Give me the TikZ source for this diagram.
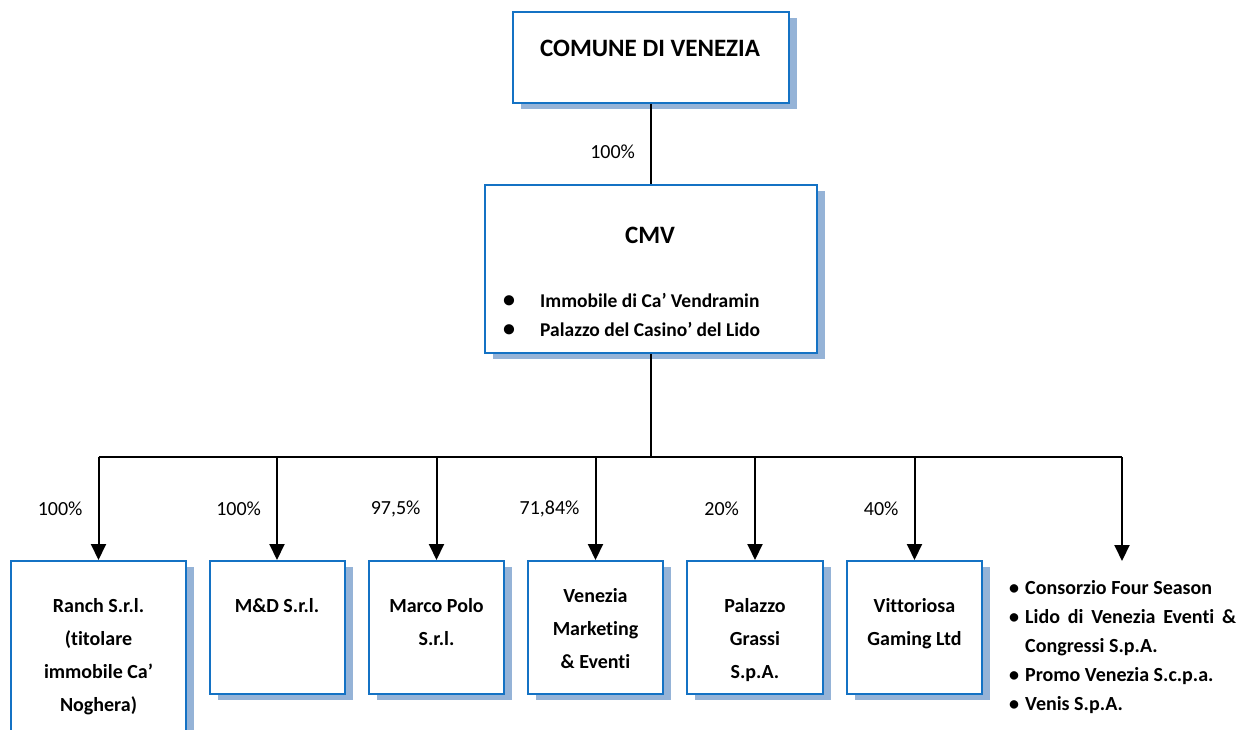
\documentclass[tikz,border=0pt]{standalone}
\usepackage{fontspec}
\setmainfont{Carlito}[Ligatures=NoCommon]
\usetikzlibrary{arrows.meta,shadows}

\definecolor{bordo}{RGB}{20,114,196}
\definecolor{ombra}{RGB}{149,179,215}

\tikzstyle{box}=[rectangle,draw=bordo,line width=2pt,fill=white,inner sep=0pt,drop shadow={shadow xshift=8pt,shadow yshift=-6pt,fill=ombra,opacity=1}]
\tikzstyle{small}=[box,minimum width=135pt,minimum height=133pt]
\tikzstyle{titolo}=[inner sep=0pt,font=\bfseries\fontsize{25}{30}\selectfont]
\tikzstyle{testo}=[inner sep=0pt,align=center,font=\bfseries\fontsize{20}{33}\selectfont]
\tikzstyle{pct}=[inner sep=0pt,font=\fontsize{20}{24}\selectfont]
\tikzstyle{link}=[line width=2pt,-{Triangle[width=15pt,length=16pt]}]

\begin{document}
\begin{tikzpicture}[x=1pt, y=-1pt]

	\clip (0,0) rectangle (1239,730);

	% Comune e CMV
	\node(comune) at (651,57.5) [box, minimum width=276pt, minimum height=91pt] {};
	\node(comuneT) at (650,57) [titolo, anchor=base] {COMUNE DI VENEZIA};

	\node(cmv) at (651,269) [box, minimum width=332pt, minimum height=168pt] {};
	\node(cmvT) at (650,243) [titolo, anchor=base] {CMV};
	\node(cmvL) at (503,293) [inner sep=0pt, anchor=north west, align=left, font=\bfseries\fontsize{19.5}{29}\selectfont]
		{\makebox[37pt][l]{\fontsize{24}{24}\selectfont\textbullet}Immobile di Ca’ Vendramin\\
		 \makebox[37pt][l]{\fontsize{24}{24}\selectfont\textbullet}Palazzo del Casino’ del Lido};

	\draw[line width=2pt] (comune) -- node[pct, pos=0.6, left=15pt]{100\%} (cmv);

	% Riga in basso
	\node(ranch) at (98.5,661) [box, minimum width=175pt, minimum height=200pt] {};
	\node(md) at (277,627.5) [small] {};
	\node(marco) at (436.5,627.5) [small] {};
	\node(venezia) at (595.5,627.5) [small] {};
	\node(palazzo) at (755,627.5) [small, minimum width=136pt] {};
	\node(vitt) at (914.5,627.5) [small] {};
	\coordinate(altre) at (1122,561);

	\node(ranchT) at ([yshift=-38pt]ranch.north) [testo, anchor=north] {Ranch S.r.l.\\(titolare\\immobile Ca’\\Noghera)};
	\node(mdT) at ([yshift=-38pt]md.north) [testo, anchor=north] {M\&D S.r.l.};
	\node(marcoT) at ([yshift=-38pt]marco.north) [testo, anchor=north] {Marco Polo\\S.r.l.};
	\node(veneziaT) at ([yshift=-28pt]venezia.north) [testo, anchor=north] {Venezia\\Marketing\\\& Eventi};
	\node(palazzoT) at ([yshift=-38pt]palazzo.north) [testo, anchor=north] {Palazzo\\Grassi\\S.p.A.};
	\node(vittT) at ([yshift=-38pt]vitt.north) [testo, anchor=north] {Vittoriosa\\Gaming Ltd};

	\node(altreT) at (1009,580) [inner sep=0pt, anchor=north west, text width=227pt, align=justify, font=\bfseries\fontsize{20}{29}\selectfont]
		{\hangindent=16pt\hangafter=1\makebox[16pt][l]{\textbullet}Consorzio Four Season\par
		 \hangindent=16pt\hangafter=1\makebox[16pt][l]{\textbullet}Lido di Venezia Eventi \& Congressi S.p.A.\par
		 \hangindent=16pt\hangafter=1\makebox[16pt][l]{\textbullet}Promo Venezia S.c.p.a.\par
		 \hangindent=16pt\hangafter=1\makebox[16pt][l]{\textbullet}Venis S.p.A.};

	% Linee
	\coordinate(bus) at (651,457);
	\draw[line width=2pt] (cmv) -- (bus);
	\draw[line width=2pt] (ranch.north |- bus) -- (altre |- bus);

	\draw[link] (ranch.north |- bus) -- node[pct, midway, left=15pt]{100\%} (ranch.north);
	\draw[link] (md.north |- bus) -- node[pct, midway, left=15pt]{100\%} (md.north);
	\draw[link] (marco.north |- bus) -- node[pct, midway, left=15pt]{97,5\%} (marco.north);
	\draw[link] (venezia.north |- bus) -- node[pct, midway, left=15pt]{71,84\%} (venezia.north);
	\draw[link] (palazzo.north |- bus) -- node[pct, midway, left=15pt]{20\%} (palazzo.north);
	\draw[link] (vitt.north |- bus) -- node[pct, midway, left=15pt]{40\%} (vitt.north);
	\draw[link] (altre |- bus) -- (altre);

\end{tikzpicture}
\end{document}
